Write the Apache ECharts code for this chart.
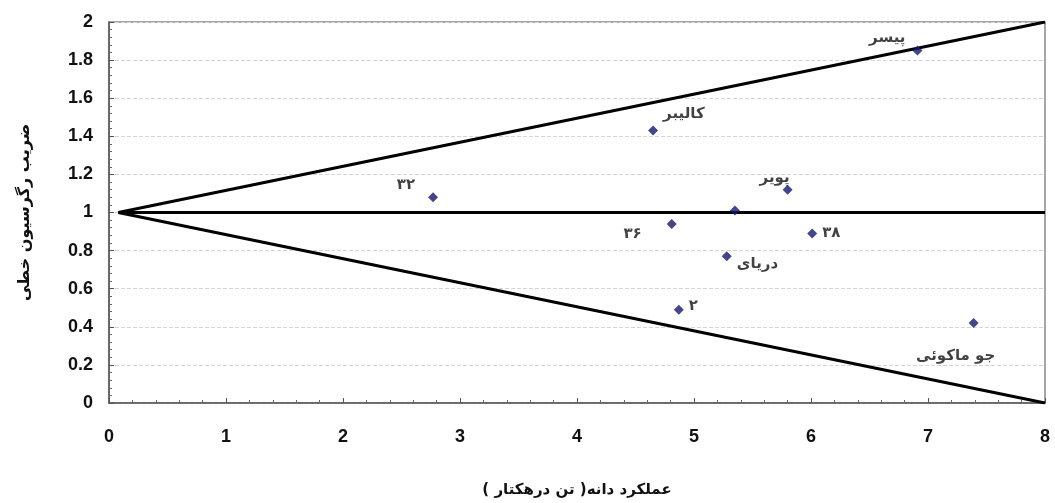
<!DOCTYPE html>
<html><head><meta charset="utf-8">
<script src="https://cdn.jsdelivr.net/npm/echarts@6/dist/echarts.min.js"></script>
<style>html,body{margin:0;padding:0;background:#fff}#c{width:1055px;height:503px}</style>
</head><body><div id="c"></div>
<script>
const names = ['پیسر','کالیبر','۳۲','','پویر','۳۶','۳۸','دریای','۲','جو ماکوئی'];
const xVals = [6.91, 4.65, 2.77, 5.35, 5.80, 4.81, 6.01, 5.28, 4.87, 7.39];
const yVals = [1.85, 1.43, 1.08, 1.01, 1.12, 0.94, 0.89, 0.77, 0.49, 0.42];
const upperLine = [[0.08, 1], [8, 2]];
const middleLine = [[0.08, 1], [8, 1]];
const lowerLine = [[0.08, 1], [8, 0]];
const xTicks = [0,1,2,3,4,5,6,7,8];
const yTicks = [0,0.2,0.4,0.6,0.8,1,1.2,1.4,1.6,1.8,2];

// label placement (style only)
const labelPlace = [
  {position:'left', offset:[-2,-12]},
  {position:'right', offset:[0,-16]},
  {position:'left', offset:[-8,-12]},
  {show:false},
  {position:'left', offset:[12,-12]},
  {position:'left', offset:[-20,10]},
  {position:'right', offset:[0,0]},
  {position:'right', offset:[0,8]},
  {position:'right', offset:[0,-4]},
  {position:'bottom', offset:[-18,16]}
];

const pts = xVals.map((x,i)=>({
  value:[x, yVals[i]], name:names[i],
  label:Object.assign({show:true, formatter:names[i]}, labelPlace[i])
}));

const chart = echarts.init(document.getElementById('c'));
const lineStyle = {color:'#000', width:3};
chart.setOption({
  animation:false,
  grid:{left:109, right:10, top:22, bottom:100, show:true, borderColor:'#888', borderWidth:1.5, backgroundColor:'#fff'},
  xAxis:{type:'value', min:0, max:8, interval:1,
    name:'عملکرد دانه( تن درهکتار )', nameLocation:'middle', nameGap:80,
    nameTextStyle:{fontSize:15, fontWeight:'bold', color:'#111', fontFamily:'DejaVu Sans'},
    axisLine:{lineStyle:{color:'#555', width:1.5}},
    axisTick:{inside:true, length:5, lineStyle:{color:'#555'}},
    minorTick:{show:true, splitNumber:5, length:3, lineStyle:{color:'#666'}},
    axisLabel:{fontSize:18, fontWeight:'bold', color:'#111', margin:25, fontFamily:'Liberation Sans',
      formatter:v=>xTicks.includes(v)?String(v):''},
    splitLine:{show:false}},
  yAxis:{type:'value', min:0, max:2, interval:0.2,
    name:'ضریب رگرسیون خطی', nameLocation:'middle', nameGap:76, nameRotate:90,
    nameTextStyle:{fontSize:16, fontWeight:'bold', color:'#111', fontFamily:'DejaVu Sans'},
    axisLine:{lineStyle:{color:'#555', width:1.5}},
    axisTick:{inside:true, length:5, lineStyle:{color:'#555'}},
    minorTick:{show:true, splitNumber:5, length:3, lineStyle:{color:'#666'}},
    axisLabel:{fontSize:18, fontWeight:'bold', color:'#111', margin:16, fontFamily:'Liberation Sans',
      formatter:v=>{const t=yTicks.find(q=>Math.abs(q-v)<1e-6); return t===undefined?'':String(+t.toFixed(1));}},
    splitLine:{show:true, lineStyle:{color:'#d4d4d4', type:'dashed', width:1}}},
  series:[
    {type:'line', data:upperLine, showSymbol:false, lineStyle, z:2},
    {type:'line', data:middleLine, showSymbol:false, lineStyle, z:2},
    {type:'line', data:lowerLine, showSymbol:false, lineStyle, z:2},
    {type:'scatter', data:pts, symbol:'diamond', symbolSize:10, z:3,
      itemStyle:{color:'#16166e'},
      label:{fontSize:15, fontWeight:'bold', color:'#111', fontFamily:'DejaVu Sans'}}
  ]
});
</script></body></html>
